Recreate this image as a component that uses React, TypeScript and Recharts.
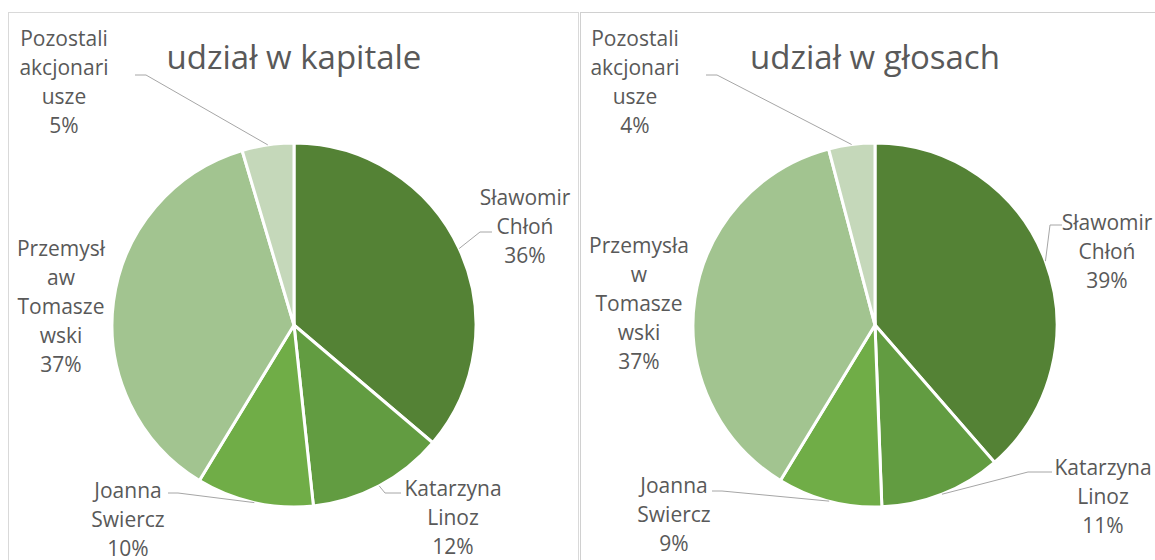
import React from 'react';
import { PieChart, Pie, Cell } from 'recharts';

// shareholders, clockwise from 12 o'clock
const categories = [
  'Sławomir Chłoń',
  'Katarzyna Linoz',
  'Joanna Swiercz',
  'Przemysław Tomaszewski',
  'Pozostali akcjonariusze',
];
const capitalShares = [36.2, 12.1, 10.4, 36.7, 4.6];
const voteShares = [38.6, 10.8, 9.3, 37.2, 4.1];
const sliceColors = ['#548235', '#629C41', '#70AD47', '#A2C490', '#C5D8BA'];

const TEXT = '#595959';
const LEADER = '#A6A6A6';
const FONT = '"Open Sans", "Noto Sans", sans-serif';
const LINE_H = 29;
const RADIUS = 182;
const RAD = Math.PI / 180;

type LabelSpot = { lines: string[]; x: number; y: number; leader?: number[][] };

// label placement relative to the pie centre (wrapped the way Excel wraps them)
const capitalLabels: LabelSpot[] = [
  { lines: ['Sławomir', 'Chłoń'], x: 231, y: -128, leader: [[186, -93], [198, -93]] },
  { lines: ['Katarzyna', 'Linoz'], x: 159, y: 163, leader: [[91, 168], [107, 168]] },
  { lines: ['Joanna', 'Swiercz'], x: -166, y: 165, leader: [[-116, 168], [-126, 168]] },
  { lines: ['Przemysł', 'aw', 'Tomasze', 'wski'], x: -233, y: -77 },
  { lines: ['Pozostali', 'akcjonari', 'usze'], x: -230, y: -287, leader: [[-148, -250], [-159, -250]] },
];

const voteLabels: LabelSpot[] = [
  { lines: ['Sławomir', 'Chłoń'], x: 232, y: -103, leader: [[175, -100], [187, -100]] },
  { lines: ['Katarzyna', 'Linoz'], x: 228, y: 142, leader: [[153, 147], [177, 147]] },
  { lines: ['Joanna', 'Swiercz'], x: -201, y: 160, leader: [[-153, 166], [-163, 166]] },
  { lines: ['Przemysła', 'w', 'Tomasze', 'wski'], x: -236, y: -80 },
  { lines: ['Pozostali', 'akcjonari', 'usze'], x: -240, y: -287, leader: [[-158, -250], [-169, -250]] },
];

const makeLabel = (spots: LabelSpot[]) => (props: any) => {
  const { cx, cy, midAngle, outerRadius, percent, index } = props;
  const spot = spots[index];
  const sx = cx + outerRadius * Math.cos(-midAngle * RAD);
  const sy = cy + outerRadius * Math.sin(-midAngle * RAD);
  const lines = [...spot.lines, `${Math.round(percent * 100)}%`];
  return (
    <g>
      {spot.leader && (
        <polyline
          points={[[sx, sy], ...spot.leader.map(([x, y]) => [cx + x, cy + y])].map((p) => p.join(',')).join(' ')}
          fill="none"
          stroke={LEADER}
          strokeWidth={1}
        />
      )}
      {lines.map((t, i) => (
        <text
          key={i}
          x={cx + spot.x}
          y={cy + spot.y + i * LINE_H}
          textAnchor="middle"
          dominantBaseline="central"
          fill={TEXT}
          fontSize={21}
          fontFamily={FONT}
        >
          {t}
        </text>
      ))}
    </g>
  );
};

const SharePie = ({ values, spots, width, cx }: { values: number[]; spots: LabelSpot[]; width: number; cx: number }) => {
  const data = categories.map((name, i) => ({ name, value: values[i] }));
  return (
    <PieChart width={width} height={547} margin={{ top: 0, right: 0, bottom: 0, left: 0 }}>
      <Pie
        data={data}
        dataKey="value"
        nameKey="name"
        cx={cx}
        cy={312}
        outerRadius={RADIUS}
        startAngle={90}
        endAngle={-270}
        stroke="#ffffff"
        strokeWidth={3}
        label={makeLabel(spots)}
        labelLine={false}
        isAnimationActive={false}
      >
        {data.map((d, i) => (
          <Cell key={d.name} fill={sliceColors[i]} />
        ))}
      </Pie>
    </PieChart>
  );
};

const titleStyle: React.CSSProperties = {
  position: 'absolute',
  top: 35,
  width: 400,
  textAlign: 'center',
  fontFamily: FONT,
  fontSize: 33,
  lineHeight: '44px',
  color: TEXT,
};

export default function App() {
  return (
    <div style={{ position: 'absolute', left: 0, top: 0, width: 1155, height: 560, overflow: 'hidden', background: '#fff' }}>
      <div style={{ position: 'absolute', left: 8, top: 12, width: 571, height: 600, border: '1px solid #D9D9D9', boxSizing: 'border-box' }}>
        <SharePie values={capitalShares} spots={capitalLabels} width={569} cx={285} />
      </div>
      <div style={{ position: 'absolute', left: 580, top: 12, width: 620, height: 600, border: '1px solid #D0D0D0', boxSizing: 'border-box' }}>
        <SharePie values={voteShares} spots={voteLabels} width={618} cx={294} />
      </div>
      <div style={{ ...titleStyle, left: 294 - 200 }}>udział w kapitale</div>
      <div style={{ ...titleStyle, left: 875 - 200 }}>udział w głosach</div>
    </div>
  );
}
